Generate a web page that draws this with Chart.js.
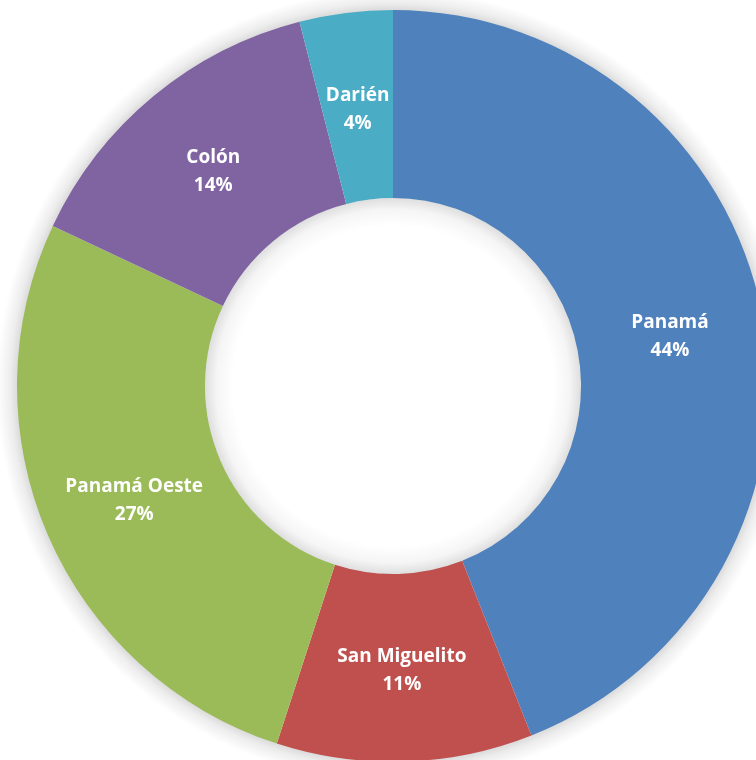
<!DOCTYPE html>
<html>
<head>
<meta charset="utf-8">
<script src="https://cdn.jsdelivr.net/npm/chart.js@4/dist/chart.umd.min.js"></script>
<style>
  html, body { margin: 0; padding: 0; background: #fff; }
  #wrap { width: 756px; height: 760px; overflow: hidden; position: relative; }
  #chart { position: absolute; left: 0; top: 0; }
</style>
</head>
<body>
<div id="wrap">
  <canvas id="chart" width="786" height="772"></canvas>
</div>
<script>
// data for the doughnut
const regions = ['Panamá', 'San Miguelito', 'Panamá Oeste', 'Colón', 'Darién'];
const shares = [44, 11, 27, 14, 4];
const sliceColors = ['#4F81BD', '#C0504D', '#9BBB59', '#8064A2', '#4BACC6'];

// soft shadow outside the ring and inside the hole, like the excel look
const shadowPlugin = {
  id: 'shadows',
  beforeDatasetsDraw(chart) {
    const arc = chart.getDatasetMeta(0).data[0];
    if (!arc) return;
    const ctx = chart.ctx;
    const r = arc.outerRadius;
    const g = ctx.createRadialGradient(arc.x, arc.y, r - 2, arc.x, arc.y, r + 20);
    g.addColorStop(0, 'rgba(0,0,0,0.16)');
    g.addColorStop(0.4, 'rgba(0,0,0,0.07)');
    g.addColorStop(1, 'rgba(0,0,0,0)');
    ctx.save();
    ctx.fillStyle = g;
    ctx.beginPath();
    ctx.arc(arc.x, arc.y, r + 20, 0, Math.PI * 2);
    ctx.arc(arc.x, arc.y, r - 2, 0, Math.PI * 2, true);
    ctx.fill('evenodd');
    ctx.restore();
  },
  afterDatasetsDraw(chart) {
    const meta = chart.getDatasetMeta(0);
    const arc = meta.data[0];
    if (!arc) return;
    const ctx = chart.ctx;
    const ir = arc.innerRadius;
    const g = ctx.createRadialGradient(arc.x, arc.y, ir - 28, arc.x, arc.y, ir);
    g.addColorStop(0, 'rgba(0,0,0,0)');
    g.addColorStop(0.6, 'rgba(0,0,0,0.04)');
    g.addColorStop(1, 'rgba(0,0,0,0.13)');
    ctx.save();
    ctx.fillStyle = g;
    ctx.beginPath();
    ctx.arc(arc.x, arc.y, ir, 0, Math.PI * 2);
    ctx.arc(arc.x, arc.y, ir - 28, 0, Math.PI * 2, true);
    ctx.fill('evenodd');
    ctx.restore();

    // labels in the middle of every slice
    ctx.save();
    ctx.fillStyle = '#ffffff';
    ctx.font = 'bold 19px "Open Sans"';
    ctx.textAlign = 'center';
    ctx.textBaseline = 'middle';
    meta.data.forEach((el, i) => {
      const p = el.getCenterPoint();
      ctx.fillText(regions[i], p.x, p.y - 11);
      ctx.fillText(shares[i] + '%', p.x, p.y + 17);
    });
    ctx.restore();
  }
};

const ctx = document.getElementById('chart').getContext('2d');
new Chart(ctx, {
  type: 'doughnut',
  data: {
    labels: regions,
    datasets: [{
      data: shares,
      backgroundColor: sliceColors,
      borderWidth: 0
    }]
  },
  options: {
    responsive: false,
    animation: false,
    events: [],
    cutout: '50%',
    layout: { padding: 10 },
    plugins: {
      legend: { display: false },
      tooltip: { enabled: false }
    }
  },
  plugins: [shadowPlugin]
});
</script>
</body>
</html>
